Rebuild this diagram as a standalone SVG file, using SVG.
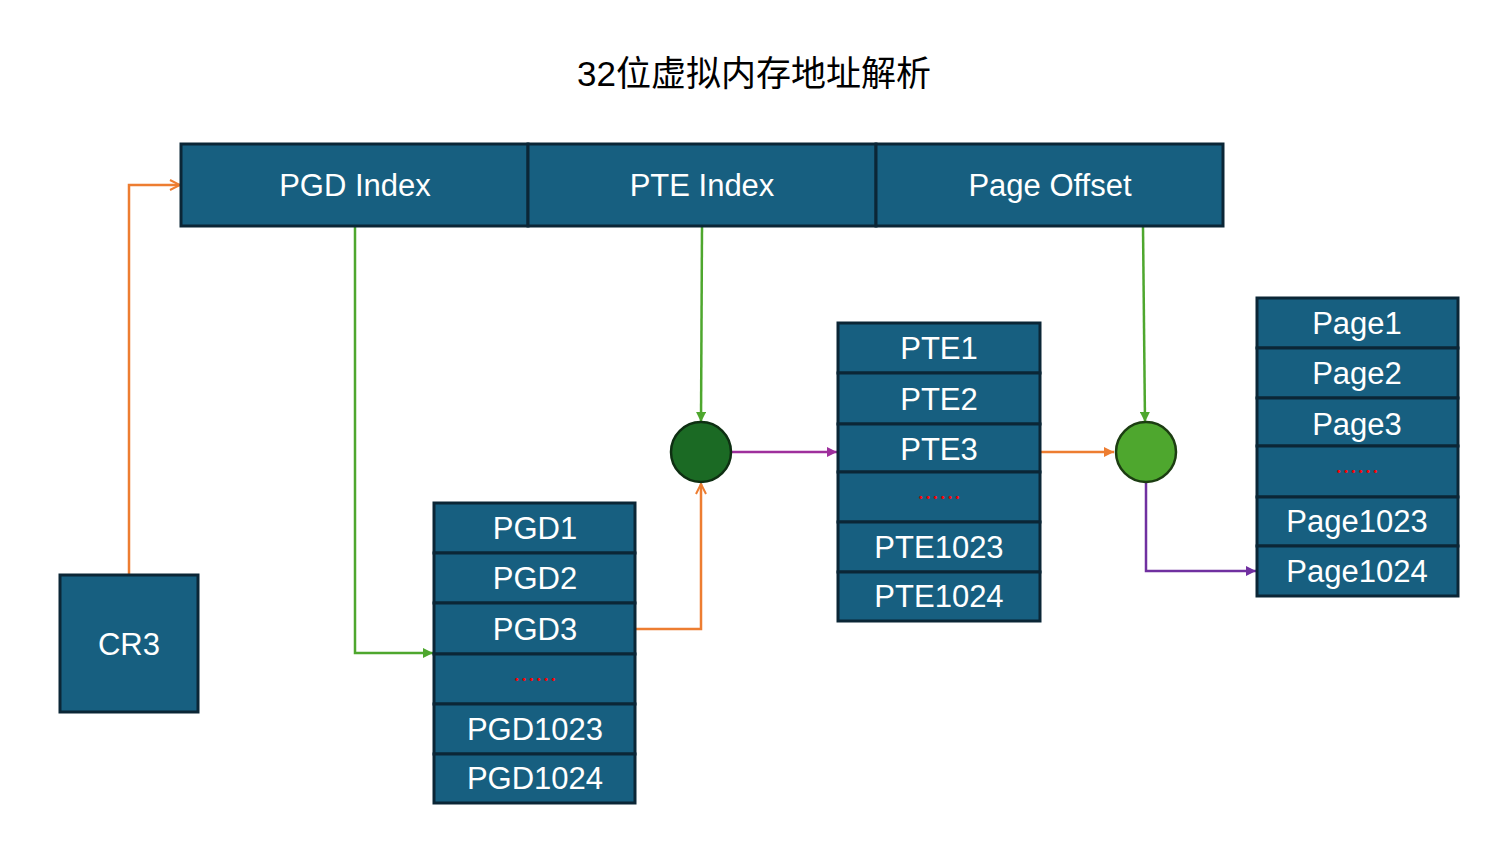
<svg xmlns="http://www.w3.org/2000/svg" width="1503" height="856" viewBox="0 0 1503 856">
<defs>
<style>
.box{fill:#175f80;stroke:#0b2636;stroke-width:3}
.lbl{font-family:"Liberation Sans",Arial,sans-serif;font-size:31px;fill:#ffffff;text-anchor:middle}
.dots{font-family:"Noto Sans CJK SC",sans-serif;font-size:22px;fill:#ff0000;text-anchor:middle}
.title{font-family:"Liberation Sans","Noto Sans CJK SC",sans-serif;font-size:35px;fill:#000000;text-anchor:middle}
.c{fill:none;stroke-width:2.5}
.or{stroke:#ed7d31}
.gr{stroke:#4ea72e}
.pu{stroke:#9e2f9c}
.pu2{stroke:#7030a0}
</style>
<marker id="aOpen" viewBox="0 0 12 12" refX="11" refY="6" markerWidth="12" markerHeight="12" markerUnits="userSpaceOnUse" orient="auto">
<path d="M1,1 L11,6 L1,11" fill="none" stroke="#ed7d31" stroke-width="2"/>
</marker>
<marker id="aGreen" viewBox="0 0 10 10" refX="10" refY="5" markerWidth="10" markerHeight="10" markerUnits="userSpaceOnUse" orient="auto">
<path d="M0,0 L10,5 L0,10 Z" fill="#4ea72e"/>
</marker>
<marker id="aOrange" viewBox="0 0 10 10" refX="10" refY="5" markerWidth="10" markerHeight="10" markerUnits="userSpaceOnUse" orient="auto">
<path d="M0,0 L10,5 L0,10 Z" fill="#ed7d31"/>
</marker>
<marker id="aPurple" viewBox="0 0 10 10" refX="10" refY="5" markerWidth="10" markerHeight="10" markerUnits="userSpaceOnUse" orient="auto">
<path d="M0,0 L10,5 L0,10 Z" fill="#9e2f9c"/>
</marker>
<marker id="aPurple2" viewBox="0 0 10 10" refX="10" refY="5" markerWidth="10" markerHeight="10" markerUnits="userSpaceOnUse" orient="auto">
<path d="M0,0 L10,5 L0,10 Z" fill="#7030a0"/>
</marker>
</defs>
<rect width="1503" height="856" fill="#ffffff"/>
<text class="title" x="754" y="86">32位虚拟内存地址解析</text>

<g id="connectors">
<path class="c or" d="M129,574 L129,185 L180,185" marker-end="url(#aOpen)"/>
<path class="c gr" d="M355,227 L355,653 L433,653" marker-end="url(#aGreen)"/>
<path class="c or" d="M636,629 L701,629 L701,484" marker-end="url(#aOpen)"/>
<path class="c gr" d="M702,227 L701,422" marker-end="url(#aGreen)"/>
<path class="c pu" d="M732,452 L837,452" marker-end="url(#aPurple)"/>
<path class="c or" d="M1041,452 L1114,452" marker-end="url(#aOrange)"/>
<path class="c gr" d="M1143,227 L1145,422" marker-end="url(#aGreen)"/>
<path class="c pu2" d="M1146,483 L1146,571 L1256,571" marker-end="url(#aPurple2)"/>
</g>

<g id="address">
<rect class="box" x="181" y="144" width="347" height="82"/>
<text class="lbl" x="355" y="196">PGD Index</text>
<rect class="box" x="528" y="144" width="348" height="82"/>
<text class="lbl" x="702" y="196">PTE Index</text>
<rect class="box" x="876" y="144" width="347" height="82"/>
<text class="lbl" x="1050" y="196">Page Offset</text>
</g>

<g id="cr3">
<rect class="box" x="60" y="575" width="138" height="137"/>
<text class="lbl" x="129" y="655">CR3</text>
</g>

<g id="pgd">
<rect class="box" x="434" y="503" width="201" height="50"/>
<text class="lbl" x="535" y="539">PGD1</text>
<rect class="box" x="434" y="553" width="201" height="50"/>
<text class="lbl" x="535" y="589">PGD2</text>
<rect class="box" x="434" y="603" width="201" height="51"/>
<text class="lbl" x="535" y="640">PGD3</text>
<rect class="box" x="434" y="654" width="201" height="50"/>
<text class="dots" x="535" y="687">……</text>
<rect class="box" x="434" y="704" width="201" height="50"/>
<text class="lbl" x="535" y="740">PGD1023</text>
<rect class="box" x="434" y="754" width="201" height="49"/>
<text class="lbl" x="535" y="789">PGD1024</text>
</g>

<g id="pte">
<rect class="box" x="838" y="323" width="202" height="50"/>
<text class="lbl" x="939" y="359">PTE1</text>
<rect class="box" x="838" y="373" width="202" height="51"/>
<text class="lbl" x="939" y="410">PTE2</text>
<rect class="box" x="838" y="424" width="202" height="48"/>
<text class="lbl" x="939" y="460">PTE3</text>
<rect class="box" x="838" y="472" width="202" height="50"/>
<text class="dots" x="939" y="505">……</text>
<rect class="box" x="838" y="522" width="202" height="50"/>
<text class="lbl" x="939" y="558">PTE1023</text>
<rect class="box" x="838" y="572" width="202" height="49"/>
<text class="lbl" x="939" y="607">PTE1024</text>
</g>

<g id="pages">
<rect class="box" x="1257" y="298" width="201" height="50"/>
<text class="lbl" x="1357" y="334">Page1</text>
<rect class="box" x="1257" y="348" width="201" height="50"/>
<text class="lbl" x="1357" y="384">Page2</text>
<rect class="box" x="1257" y="398" width="201" height="48"/>
<text class="lbl" x="1357" y="435">Page3</text>
<rect class="box" x="1257" y="446" width="201" height="51"/>
<text class="dots" x="1357" y="479">……</text>
<rect class="box" x="1257" y="497" width="201" height="49"/>
<text class="lbl" x="1357" y="532">Page1023</text>
<rect class="box" x="1257" y="546" width="201" height="50"/>
<text class="lbl" x="1357" y="582">Page1024</text>
</g>

<g id="join1">
<circle cx="701" cy="452" r="30" fill="#1b6a24" stroke="#0e2f12" stroke-width="2.5"/>
</g>
<g id="join2">
<circle cx="1146" cy="452" r="30" fill="#4ea72e" stroke="#1c3d12" stroke-width="2.5"/>
</g>
</svg>
